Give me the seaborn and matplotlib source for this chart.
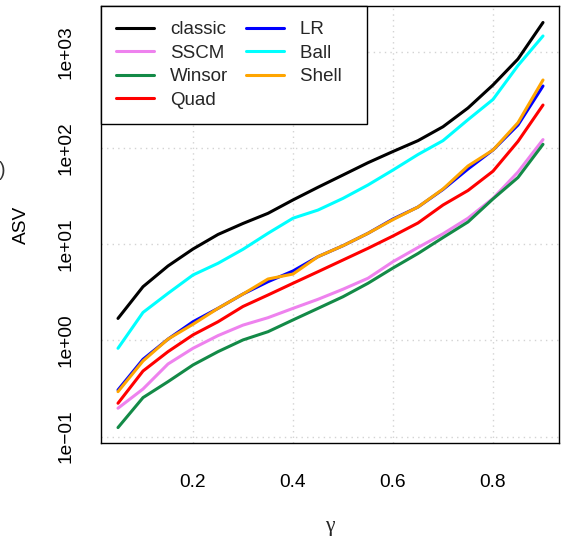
import numpy as np
import pandas as pd
import matplotlib
matplotlib.use("Agg")
import matplotlib.pyplot as plt
from matplotlib.lines import Line2D
import seaborn as sns

# Asymptotic variance (ASV) of the estimators as a function of gamma
gamma = [0.05, 0.10, 0.15, 0.20, 0.25, 0.30, 0.35, 0.40, 0.45,
         0.50, 0.55, 0.60, 0.65, 0.70, 0.75, 0.80, 0.85, 0.90]

classic = [1.69, 3.61, 5.93, 8.9, 12.6, 16.4, 20.9, 28.8, 39.0,
           52.3, 70.2, 91.8, 119, 166, 260, 451, 840, 2012]
sscm = [0.197, 0.312, 0.568, 0.827, 1.12, 1.44, 1.72, 2.15, 2.67,
        3.40, 4.42, 6.57, 9.23, 12.8, 18.6, 29.9, 56.2, 122]
winsor = [0.124, 0.254, 0.372, 0.555, 0.763, 1.01, 1.23, 1.63, 2.15,
          2.84, 3.92, 5.65, 7.99, 11.7, 17.0, 29.5, 49.3, 109]
quad = [0.222, 0.480, 0.763, 1.14, 1.56, 2.25, 2.96, 3.92, 5.17,
        6.84, 9.05, 12.15, 16.6, 25.5, 36.1, 57.3, 117, 279]
lr = [0.305, 0.635, 1.03, 1.56, 2.15, 3.03, 4.07, 5.26, 7.41,
      9.63, 12.96, 18.25, 24.3, 37.0, 60.4, 95.1, 173, 440]
ball = [0.827, 1.95, 3.08, 4.78, 6.32, 8.84, 12.96, 18.6, 22.6,
        29.9, 41.2, 58.9, 85.4, 119, 196.5, 319, 719, 1457]
shell = [0.293, 0.610, 1.03, 1.47, 2.15, 3.03, 4.34, 4.89, 7.41,
         9.63, 12.96, 18.0, 24.3, 37.4, 64.9, 95.1, 183, 508]

methods = ["classic", "SSCM", "Winsor", "Quad", "LR", "Ball", "Shell"]
series = [classic, sscm, winsor, quad, lr, ball, shell]
colors = ["#000000", "#EE82EE", "#138A47", "#FF0000", "#0000FF", "#00FFFF", "#FFA500"]

x_ticks = [0.2, 0.4, 0.6, 0.8]
y_ticks = [1e-1, 1e0, 1e1, 1e2, 1e3]
y_tick_labels = ["1e\u221201", "1e+00", "1e+01", "1e+02", "1e+03"]

df = pd.DataFrame({
    "gamma": np.tile(gamma, len(methods)),
    "ASV": np.concatenate(series),
    "method": np.repeat(methods, len(gamma)),
})

sns.set_style("white")
plt.rcParams["font.family"] = ["Liberation Sans", "DejaVu Sans"]

W, H = 561, 536
fig = plt.figure(figsize=(W / 100, H / 100), dpi=100)
left, right, top, bottom = 101, 559.3, 6, 443.3
ax = fig.add_axes([left / W, 1 - bottom / H, (right - left) / W, (bottom - top) / H])

# dotted reference grid drawn below the curves
for xv in x_ticks:
    ax.axvline(xv, color="#D3D3D3", lw=1.0, ls=(0, (1, 3)), zorder=0)
for yv in y_ticks:
    ax.axhline(yv, color="#D3D3D3", lw=1.0, ls=(0, (1, 3)), zorder=0)

palette = dict(zip(methods, colors))
sns.lineplot(data=df, x="gamma", y="ASV", hue="method", hue_order=methods,
             palette=palette, linewidth=2.2, legend=False, ax=ax,
             estimator=None, sort=False)

ax.set_yscale("log")
ax.set_xlim(0.016, 0.9326)
ax.set_ylim(10 ** -1.07, 10 ** 3.475)
ax.yaxis.set_minor_locator(matplotlib.ticker.NullLocator())
ax.tick_params(axis="both", direction="out", length=8.3, width=1.0,
               color="black", labelsize=13.8, labelcolor="black")
ax.tick_params(axis="x", pad=13.5)
ax.tick_params(axis="y", pad=10.5)
ax.set_xticks(x_ticks, labels=[f"{v:.1f}" for v in x_ticks])
# vertical y labels, centred on their ticks
ax.set_yticks(y_ticks, labels=y_tick_labels, rotation=90,
              rotation_mode="anchor", ha="center", va="bottom")

for sp in ax.spines.values():
    sp.set_visible(True)
    sp.set_color("black")
    sp.set_linewidth(1.0)

ax.set_xlabel("")
ax.set_ylabel("ASV", fontsize=13.8, color="black")
ax.yaxis.label.set_va("center")
ax.yaxis.set_label_coords((21 - left) / (right - left), 0.5)
fig.text(330 / W, 1 - 526 / H, "\u03b3", fontsize=15.5, family=["Liberation Serif", "DejaVu Serif"],
         ha="center", va="center")
fig.text(6 / W, 1 - 170 / H, ")", fontsize=14.5, ha="right", va="center", color="#333333")

handles = [Line2D([], [], color=c, lw=2.2) for c in colors]
labels = methods[:4] + [m + "  " for m in methods[4:]]
leg = ax.legend(handles, labels, ncol=2, loc="upper left", bbox_to_anchor=(0, 1),
                borderaxespad=0, frameon=True, fancybox=False, framealpha=1,
                edgecolor="black", fontsize=13.5, handlelength=2.05,
                handletextpad=0.85, columnspacing=0.9, labelspacing=0.34,
                borderpad=0.8)
leg.get_frame().set_linewidth(1.0)

fig.savefig("out.png", dpi=100)
